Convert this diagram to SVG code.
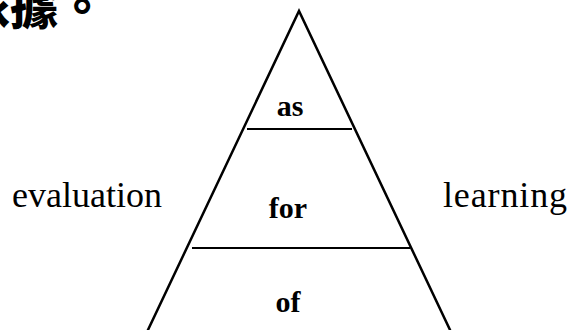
<svg xmlns="http://www.w3.org/2000/svg" width="570" height="330" viewBox="0 0 570 330">
<style>
.edge{stroke:#000;stroke-width:2.5;fill:none;stroke-linecap:round;stroke-linejoin:miter}
.div{stroke:#000;stroke-width:2.2;fill:none}
.lvl{font-family:"Liberation Serif",serif;font-weight:bold;font-size:30px;fill:#000;text-anchor:middle}
.side{font-family:"Liberation Serif",serif;font-size:36px;fill:#000}
.cjk{font-family:"Noto Sans CJK TC",sans-serif;font-weight:900;font-size:48px;fill:#000}
</style>
<rect width="570" height="330" fill="#fff"/>
<text class="cjk" x="-38" y="24">依據。</text>
<g id="pyramid">
<path class="edge" d="M147,332 L299,11 L451,332"/>
</g>
<g id="connectors">
<line class="div" x1="247" y1="129" x2="352" y2="129"/>
<line class="div" x1="192" y1="248" x2="410" y2="248"/>
</g>
<g id="as"><text class="lvl" x="290" y="116">as</text></g>
<g id="for"><text class="lvl" x="288" y="218">for</text></g>
<g id="of"><text class="lvl" x="288" y="312">of</text></g>
<g id="evaluation"><text class="side" x="12" y="207">evaluation</text></g>
<g id="learning"><text class="side" x="443" y="207" textLength="124">learning</text></g>
</svg>
